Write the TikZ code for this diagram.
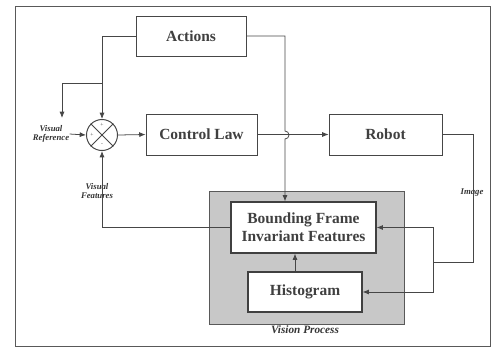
\documentclass[tikz,border=0pt]{standalone}
\usepackage{fontspec}
\setmainfont{Liberation Serif}
\usetikzlibrary{arrows.meta,shapes.geometric}
\definecolor{linegray}{RGB}{70,70,70}
\definecolor{procgray}{RGB}{200,200,200}

\begin{document}
\begin{tikzpicture}[x=0.025cm,y=-0.025cm,
  line width=0.55pt, draw=linegray,
  blk/.style={draw=linegray,fill=white,line width=0.6pt,font=\fontsize{11}{13}\selectfont\bfseries,text=black!75,align=center,inner sep=0pt},
  vbox/.style={draw=black!75,fill=white,line width=0.9pt,font=\fontsize{11}{13}\selectfont\bfseries,text=black!75,align=center,inner sep=0pt},
  lab/.style={font=\fontsize{6.2}{6.8}\selectfont\bfseries\itshape,text=black!80,align=center,inner sep=0pt},
  sig/.style={font=\fontsize{4}{4}\selectfont,text=black!70,inner sep=0pt},
  arr/.style={-{Latex[length=4.5pt,width=3.6pt]},draw=linegray}]
\useasboundingbox (0,0) rectangle (492,351);
\draw [line width=0.7pt,black!65] (15,6) rectangle (490,346);

% vision process area
\node [draw=black!65,fill=procgray,line width=0.7pt,minimum width=4.85cm,minimum height=3.3cm,inner sep=0pt] (vis) at (307,258) {};
\node [lab,font=\fontsize{8}{9}\selectfont\bfseries\itshape] (vislab) at (305,330) {Vision Process};

\node [blk,minimum width=2.75cm,minimum height=1cm] (act) at (191,36) {Actions};
\node [blk,minimum width=2.775cm,minimum height=1.025cm] (cl) at (201.5,134.5) {Control Law};
\node [blk,minimum width=2.825cm,minimum height=1.025cm] (rob) at (385.5,134.5) {Robot};
\node [vbox,minimum width=3.625cm,minimum height=1.275cm] (bf) at (303.5,227.5) {Bounding Frame\\Invariant Features};
\node [vbox,minimum width=2.85cm,minimum height=1cm] (hist) at (305,292) {Histogram};

% summing junction
\node [circle,draw=linegray,line width=0.7pt,minimum size=0.775cm,inner sep=0pt] (sum) at (102,135) {};
\draw [linegray,line width=0.6pt] (sum.north west) -- (sum.south east) (sum.north east) -- (sum.south west);
\node [sig] (s1) at (102,125) {+};
\node [sig] (s2) at (92,135) {+};
\node [sig] (s3) at (102,145) {-};

\node [lab] (vref) at (51,134) {Visual\\Reference};
\node [lab] (vfeat) at (97,191) {Visual\\Features};
\node [lab] (img) at (472,193) {Image};

\coordinate (br) at (102,83);
\coordinate (brend) at (62,118);
\coordinate (hop) at (285,135);
\coordinate (split) at (433,262);

% connectors
\draw [arr] (act.west) -| (sum.north);
\draw [arr] (br) -| (brend);
\draw [arr] (vref.east) -- (sum.west);
\draw [arr] (sum.east) -- (cl.west);
\draw [arr] (cl.east) -- (rob.west);
\draw [arr] (act.east) -| (285,131) arc [start angle=-90,end angle=90,radius=4] -- (bf.north -| hop);
\draw (rob.east) -| (473,262) -- (split);
\draw [arr] (split) |- (bf.east);
\draw [arr] (split) |- (hist.east);
\draw [arr] (295,0 |- hist.north) -- (295,0 |- bf.south);
\draw [arr] (bf.west) -| (sum.south);
\end{tikzpicture}
\end{document}
